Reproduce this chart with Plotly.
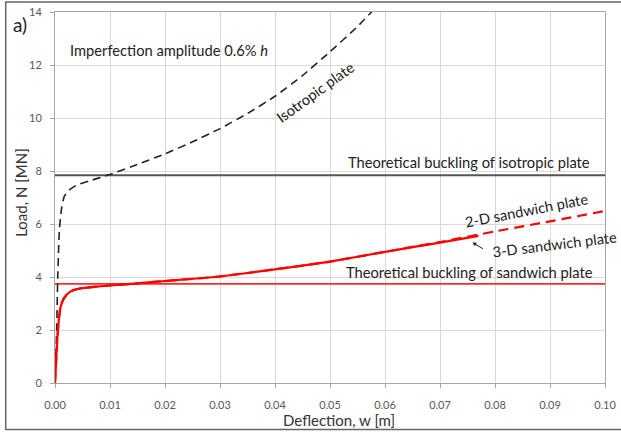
import plotly.graph_objects as go

# Isotropic plate (dashed black)
iso_x = [0, 0.0003, 0.0005, 0.0008, 0.0012, 0.0017, 0.0027, 0.004, 0.0063,
         0.01, 0.015, 0.02, 0.025, 0.03, 0.035, 0.04, 0.045, 0.05, 0.055, 0.058]
iso_y = [0, 2.0, 4.0, 5.8, 6.6, 7.05, 7.3, 7.47, 7.63,
         7.87, 8.25, 8.65, 9.1, 9.6, 10.17, 10.82, 11.6, 12.5, 13.45, 14.1]

# 2-D sandwich plate (dashed red)
sw2_x = [0, 0.0002, 0.0004, 0.0007, 0.001, 0.0015, 0.0022, 0.0033, 0.005, 0.0075,
         0.01, 0.015, 0.02, 0.03, 0.04, 0.05, 0.06, 0.07, 0.08, 0.09, 0.10]
sw2_y = [0, 0.8, 1.6, 2.4, 2.85, 3.15, 3.35, 3.5, 3.58, 3.64,
         3.68, 3.76, 3.85, 4.02, 4.29, 4.58, 4.95, 5.32, 5.72, 6.1, 6.49]

# 3-D sandwich plate (solid red)
sw3_x = [0, 0.0002, 0.0004, 0.0007, 0.001, 0.0015, 0.0022, 0.0033, 0.005, 0.0075,
         0.01, 0.015, 0.02, 0.03, 0.04, 0.05, 0.06, 0.07, 0.077]
sw3_y = [0, 0.8, 1.6, 2.4, 2.85, 3.15, 3.35, 3.5, 3.58, 3.64,
         3.68, 3.76, 3.85, 4.02, 4.29, 4.58, 4.95, 5.3, 5.55]

theo_iso = 7.84
theo_sw = 3.74
x_range = [0, 0.10]
y_range = [0, 14]
x_ticks = [0.00, 0.01, 0.02, 0.03, 0.04, 0.05, 0.06, 0.07, 0.08, 0.09, 0.10]
y_ticks = [0, 2, 4, 6, 8, 10, 12, 14]

FONT = "Lato"
fig = go.Figure()

fig.add_trace(go.Scatter(x=x_range, y=[theo_iso, theo_iso], mode="lines",
                         line=dict(color="#555555", width=2), hoverinfo="skip"))
fig.add_trace(go.Scatter(x=x_range, y=[theo_sw, theo_sw], mode="lines",
                         line=dict(color="#ff2a2a", width=1.6), hoverinfo="skip"))
fig.add_trace(go.Scatter(x=iso_x, y=iso_y, mode="lines",
                         line=dict(color="#222222", width=1.6, dash="8px,5px", shape="spline", smoothing=0.4)))
fig.add_trace(go.Scatter(x=sw2_x, y=sw2_y, mode="lines",
                         line=dict(color="#ff0000", width=2.2, dash="10px,6px", shape="spline", smoothing=0.4)))
fig.add_trace(go.Scatter(x=sw3_x, y=sw3_y, mode="lines",
                         line=dict(color="#ff0000", width=2.2, shape="spline", smoothing=0.4)))

txt = dict(family=FONT, size=14.7, color="#222222")
C = dict(xanchor="center", yanchor="middle", showarrow=False)
ann = [
    dict(x=0.0207, y=12.55, text="Imperfection amplitude 0.6% <i>h</i>", font=txt, **C),
    dict(x=0.0472, y=10.99, text="Isotropic plate", font=txt, textangle=-36, **C),
    dict(x=0.0752, y=8.34, text="Theoretical buckling of isotropic plate", font=txt, **C),
    dict(x=0.0857, y=6.52, text="2-D sandwich plate", font=txt, textangle=-11, **C),
    dict(x=0.0908, y=5.26, text="3-D sandwich plate", font=txt, textangle=-7, **C),
    dict(x=0.0754, y=4.2, text="Theoretical buckling of sandwich plate", font=txt, **C),
    dict(x=0.0759, y=5.3, text="", showarrow=True, arrowhead=2, arrowsize=0.8, arrowwidth=1,
         arrowcolor="#222222", ax=12, ay=7),
    dict(x=-0.0645, y=0.965, xref="paper", yref="paper", text="a)",
         font=dict(family=FONT, size=19, color="#222222"), **C),
    dict(x=0.517, y=-0.1006, xref="paper", yref="paper", text="Deflection, w [m]",
         font=dict(family=FONT, size=15, color="#333333"), **C),
    dict(x=-0.0609, y=0.514, xref="paper", yref="paper", text="Load, N [MN]",
         textangle=-90, font=dict(family=FONT, size=15, color="#333333"), **C),
]

fig.update_layout(
    width=621, height=432,
    margin=dict(l=55, r=16, t=12, b=49, autoexpand=False),
    paper_bgcolor="white", plot_bgcolor="white",
    showlegend=False,
    annotations=ann,
    shapes=[dict(type="rect", xref="paper", yref="paper", x0=-0.0896, x1=1.04, y0=-0.125, y1=1.027,
                 line=dict(color="#666666", width=1.5), layer="below")],
)
fig.update_xaxes(range=x_range, tickvals=x_ticks, ticktext=[f"{v:.2f}" for v in x_ticks],
                 automargin=False,
                 showgrid=True, gridcolor="#d9d9d9", gridwidth=1,
                 showline=True, linecolor="#a6a6a6", linewidth=1, mirror=True,
                 ticks="outside", ticklen=4, tickcolor="#a6a6a6", ticklabelstandoff=8,
                 tickfont=dict(family=FONT, size=11, color="#595959"), zeroline=False)
fig.update_yaxes(range=y_range, tickvals=y_ticks, automargin=False,
                 showgrid=True, gridcolor="#d9d9d9", gridwidth=1,
                 showline=True, linecolor="#a6a6a6", linewidth=1, mirror=True,
                 ticks="outside", ticklen=4, tickcolor="#a6a6a6", ticklabelstandoff=6,
                 tickfont=dict(family=FONT, size=11, color="#595959"), zeroline=False)

fig.write_html("out.html")
